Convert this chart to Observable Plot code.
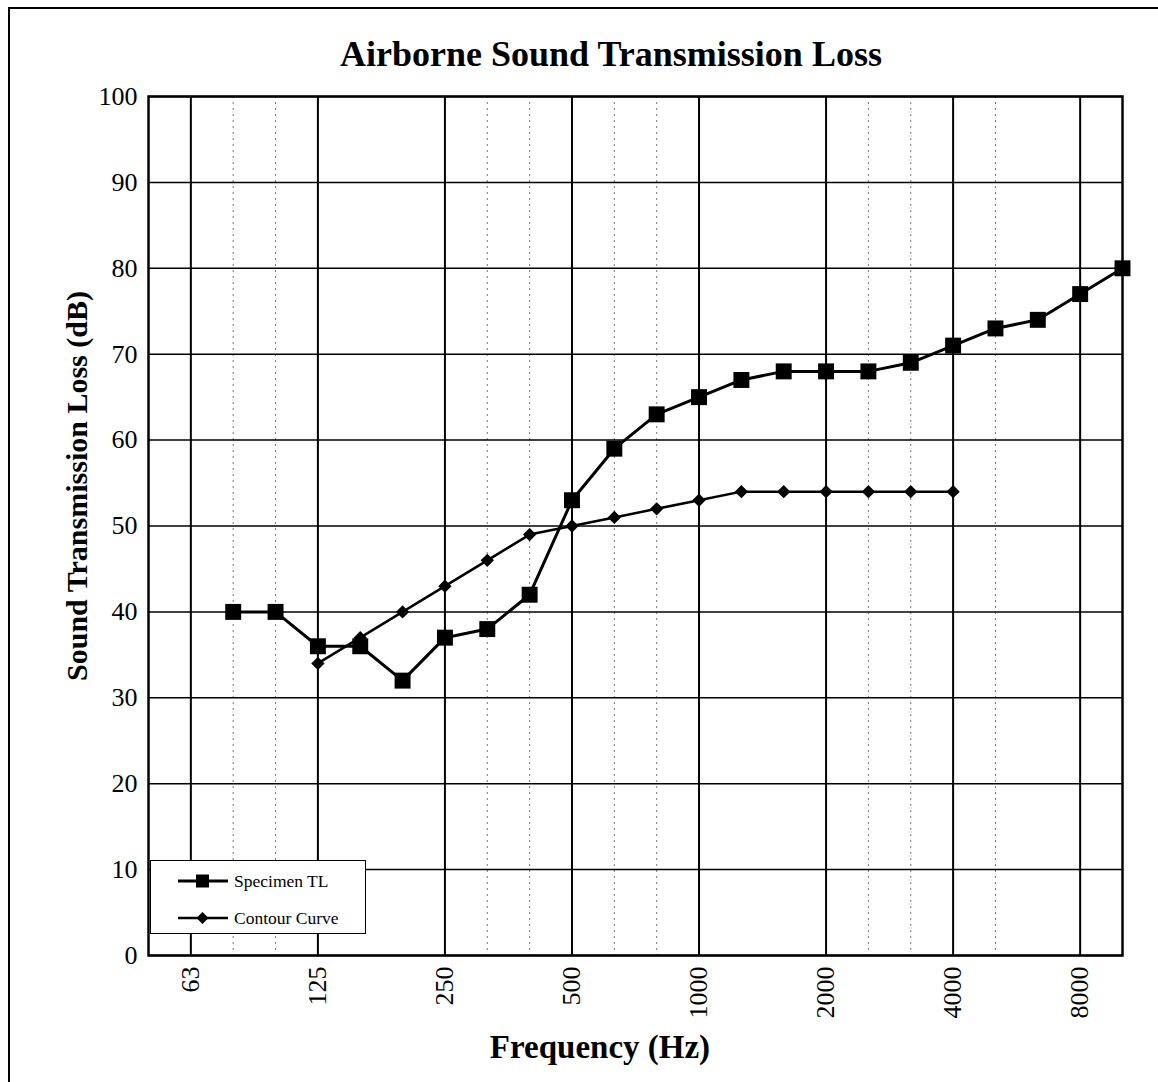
<!DOCTYPE html>
<html><head><meta charset="utf-8">
<script src="https://cdn.jsdelivr.net/npm/d3@7"></script>
<script src="https://cdn.jsdelivr.net/npm/@observablehq/plot@0.6"></script>
<style>
body{margin:0;background:#fff;}
#wrap{position:relative;width:1158px;height:1082px;overflow:hidden;font-family:"Liberation Serif","Times New Roman",serif;color:#000;}
#border{position:absolute;left:8px;top:7px;width:1300px;height:1300px;border-left:2px solid #000;border-top:2px solid #000;pointer-events:none;}
#chart{position:absolute;left:0;top:0;}
#title{position:absolute;left:0;width:1222px;top:36px;text-align:center;font-weight:bold;font-size:36px;line-height:1;}
#xtitle{position:absolute;left:0;width:1200px;top:1031px;text-align:center;font-weight:bold;font-size:33px;line-height:1;}
#ytitle{position:absolute;left:77px;top:486px;transform:translate(-50%,-50%) rotate(-90deg);white-space:nowrap;font-weight:bold;font-size:30px;line-height:1;}
#legend{position:absolute;left:150px;top:860px;width:216px;height:74px;border:1.5px solid #000;background:#fff;box-sizing:border-box;}
#legend .row{position:absolute;left:0;height:20px;display:flex;align-items:center;font-size:17.5px;}
#legend svg{display:block;}
</style>
</head><body>
<div id="wrap">
  <div id="chart"></div>
  <div id="border"></div>
  <div id="title">Airborne Sound Transmission Loss</div>
  <div id="xtitle">Frequency (Hz)</div>
  <div id="ytitle">Sound Transmission Loss (dB)</div>
  <div id="legend"></div>
</div>
<script>
// One-third-octave band centre frequencies (x categories)
const bands = ["50","63","80","100","125","160","200","250","315","400","500","630","800","1000","1250","1600","2000","2500","3150","4000","5000","6300","8000","10000"];
const octaveTicks = ["63","125","250","500","1000","2000","4000","8000"];
const dottedBands = ["80","100","315","400","630","800","2500","3150","5000"];
const yTicks = [0,10,20,30,40,50,60,70,80,90,100];

const seriesNames = ["Specimen TL","Contour Curve"];
const specimenBands = ["80","100","125","160","200","250","315","400","500","630","800","1000","1250","1600","2000","2500","3150","4000","5000","6300","8000","10000"];
const specimenTL = [40,40,36,36,32,37,38,42,53,59,63,65,67,68,68,68,69,71,73,74,77,80];
const contourBands = ["125","160","200","250","315","400","500","630","800","1000","1250","1600","2000","2500","3150","4000"];
const contourTL = [34,37,40,43,46,49,50,51,52,53,54,54,54,54,54,54];

const idx = b => bands.indexOf(b);
const specimen = specimenBands.map((b,i)=>({x:idx(b), y:specimenTL[i]}));
const contour = contourBands.map((b,i)=>({x:idx(b), y:contourTL[i]}));
const octIdx = octaveTicks.map(idx);
const dotIdx = dottedBands.map(idx);

const plot = Plot.plot({
  width:1158, height:1082,
  marginLeft:148, marginRight:36, marginTop:96, marginBottom:127,
  x:{domain:[0,bands.length-1], axis:null},
  y:{domain:[0,100], axis:null},
  style:{fontFamily:"'Liberation Serif','Times New Roman',serif", background:"transparent", color:"#000"},
  marks:[
    Plot.ruleX(dotIdx,{stroke:"#777", strokeWidth:1, strokeDasharray:"2,4"}),
    Plot.ruleY(yTicks,{stroke:"#000", strokeWidth:1.5}),
    Plot.ruleX(octIdx,{stroke:"#000", strokeWidth:2}),
    Plot.frame({stroke:"#000", strokeWidth:2.5}),
    Plot.axisY({ticks:yTicks, tickSize:0, tickPadding:11, fontSize:26, label:null}),
    Plot.axisX({ticks:octIdx, tickSize:0, tickPadding:11, fontSize:26, tickRotate:-90, tickFormat:i=>bands[i], label:null}),
    Plot.line(contour,{x:"x", y:"y", stroke:"#000", strokeWidth:2.5}),
    Plot.dot(contour,{x:"x", y:"y", symbol:"diamond2", r:6, fill:"#000", stroke:"none"}),
    Plot.line(specimen,{x:"x", y:"y", stroke:"#000", strokeWidth:3}),
    Plot.dot(specimen,{x:"x", y:"y", symbol:"square", r:9, fill:"#000", stroke:"none"})
  ]
});
document.getElementById("chart").appendChild(plot);

// Legend
const legend = document.getElementById("legend");
const symbols = [
  '<rect x="18" y="3.5" width="13" height="13" fill="#000"/>',
  '<path d="M24.5 4 L30.5 10 L24.5 16 L18.5 10 Z" fill="#000"/>'
];
const widths = [3,2.5];
seriesNames.forEach((name,i)=>{
  const row = document.createElement("div");
  row.className = "row";
  row.style.top = (i===0 ? 10 : 47) + "px";
  row.style.left = "27px";
  row.innerHTML = `<svg width="52" height="20"><line x1="0" x2="50" y1="10" y2="10" stroke="#000" stroke-width="${widths[i]}"/>${symbols[i]}</svg><span style="margin-left:4px">${name}</span>`;
  legend.appendChild(row);
});
</script>
</body></html>
